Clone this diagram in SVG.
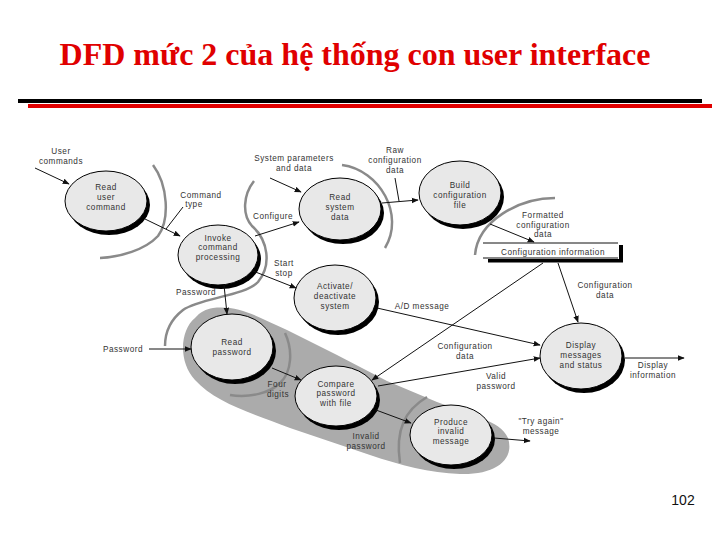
<svg xmlns="http://www.w3.org/2000/svg" width="720" height="540" viewBox="0 0 720 540">
<defs>
<style>
.t{font-family:"Liberation Sans",Arial,sans-serif;font-size:8.2px;fill:#333;text-anchor:middle;letter-spacing:0.5px}
.title{font-family:"Liberation Serif","Times New Roman",serif;font-size:32px;font-weight:bold;fill:#e00000;text-anchor:middle}
.sh{fill:#000}
.bub{fill:#e8e8e8;stroke:#000;stroke-width:1}
.arc{fill:none;stroke:#8a8a8a;stroke-width:2.5}
.f{fill:none;stroke:#111;stroke-width:1;marker-end:url(#ah)}
.ld{fill:none;stroke:#111;stroke-width:1}
</style>
<marker id="ah" viewBox="0 0 10 10" refX="9" refY="5" markerWidth="7" markerHeight="7" markerUnits="userSpaceOnUse" orient="auto">
<path d="M0,1 L10,5 L0,9 Z" fill="#111"/>
</marker>
</defs>
<rect width="720" height="540" fill="#fff"/>
<text class="title" x="355" y="65">DFD mức 2 của hệ thống con user interface</text>
<rect x="18" y="99" width="684" height="4" fill="#000"/>
<rect x="28" y="104" width="684" height="4" fill="#e00000"/>

<g id="blob">
<path d="M213,308 C240,305 260,318 287,330 L337,355 L387,381 L437,402 C470,415 500,420 508,438 C515,460 495,475 460,474 C430,473 400,465 370,455 L290,428 C250,413 215,402 195,380 C178,362 180,330 195,318 C200,312 206,309 213,308 Z" fill="#ababab"/>
</g>

<g id="arcs">
<path class="arc" d="M153,165 C168,185 170,220 158,236 C145,250 120,257 100,258"/>
<path class="arc" d="M254,181 C243,195 242,215 252,226 C268,240 272,265 258,282 C245,296 200,298 183,310 C170,320 165,332 165,346"/>
<path class="arc" d="M342,165 C380,170 405,215 385,248"/>
<path class="arc" d="M555,198 C520,198 478,220 475,255"/>
<path class="arc" d="M285,333 C293,350 292,372 280,383 C270,393 250,398 230,395" stroke="#7a7a7a"/>
<path class="arc" d="M427,397 C405,410 395,430 400,463" stroke="#7a7a7a"/>
</g>

<g id="n-read-user-command">
<ellipse class="sh" cx="109" cy="205" rx="41" ry="30"/>
<ellipse class="bub" cx="106" cy="201" rx="41" ry="30"/>
<text class="t" x="106" y="190">Read</text>
<text class="t" x="106" y="200">user</text>
<text class="t" x="106" y="210">command</text>
</g>

<g id="n-invoke">
<ellipse class="sh" cx="221" cy="259" rx="40" ry="30"/>
<ellipse class="bub" cx="218" cy="255" rx="40" ry="30"/>
<text class="t" x="218" y="241">Invoke</text>
<text class="t" x="218" y="250">command</text>
<text class="t" x="218" y="260">processing</text>
</g>

<g id="n-read-system-data">
<ellipse class="sh" cx="343" cy="213" rx="41" ry="31"/>
<ellipse class="bub" cx="340" cy="209" rx="41" ry="31"/>
<text class="t" x="340" y="200">Read</text>
<text class="t" x="340" y="210">system</text>
<text class="t" x="340" y="220">data</text>
</g>

<g id="n-build-config">
<ellipse class="sh" cx="463" cy="197" rx="41" ry="32"/>
<ellipse class="bub" cx="460" cy="193" rx="41" ry="32"/>
<text class="t" x="460" y="188">Build</text>
<text class="t" x="460" y="198">configuration</text>
<text class="t" x="460" y="208">file</text>
</g>

<g id="store-config-info">
<line x1="483" y1="243" x2="618" y2="243" stroke="#111" stroke-width="1"/>
<line x1="483" y1="258" x2="618" y2="258" stroke="#111" stroke-width="1"/>
<rect x="488" y="259" width="135" height="3.5" fill="#000"/>
<rect x="619" y="245" width="4" height="17" fill="#000"/>
<text class="t" x="553" y="255">Configuration information</text>
</g>

<g id="n-activate">
<ellipse class="sh" cx="338" cy="302" rx="41" ry="33"/>
<ellipse class="bub" cx="335" cy="298" rx="41" ry="33"/>
<text class="t" x="335" y="289">Activate/</text>
<text class="t" x="335" y="299">deactivate</text>
<text class="t" x="335" y="309">system</text>
</g>

<g id="n-display">
<ellipse class="sh" cx="584" cy="360" rx="41" ry="33"/>
<ellipse class="bub" cx="581" cy="356" rx="41" ry="33"/>
<text class="t" x="581" y="348">Display</text>
<text class="t" x="581" y="358">messages</text>
<text class="t" x="581" y="368">and status</text>
</g>

<g id="n-read-password">
<ellipse class="sh" cx="235" cy="351" rx="41" ry="33"/>
<ellipse class="bub" cx="232" cy="347" rx="41" ry="33"/>
<text class="t" x="232" y="345">Read</text>
<text class="t" x="232" y="355">password</text>
</g>

<g id="n-compare">
<ellipse class="sh" cx="339" cy="400" rx="41" ry="30"/>
<ellipse class="bub" cx="336" cy="396" rx="41" ry="30"/>
<text class="t" x="336" y="387">Compare</text>
<text class="t" x="336" y="396">password</text>
<text class="t" x="336" y="406">with file</text>
</g>

<g id="n-produce">
<ellipse class="sh" cx="454" cy="439" rx="41" ry="30"/>
<ellipse class="bub" cx="451" cy="435" rx="41" ry="30"/>
<text class="t" x="451" y="425">Produce</text>
<text class="t" x="451" y="434">invalid</text>
<text class="t" x="451" y="444">message</text>
</g>

<g id="connectors">
<path class="f" d="M35,168 L69,184"/>
<path class="f" d="M145,219 L180,236"/>
<path class="ld" d="M183,207 L166,229"/>
<path class="f" d="M255,236 L299,222"/>
<path class="f" d="M270,178 L301,192"/>
<path class="f" d="M382,203 L418,200"/>
<path class="ld" d="M395,178 L399,201"/>
<path class="f" d="M490,224 L534,242"/>
<path class="f" d="M558,263 L578,322"/>
<path class="f" d="M543,263 L372,380"/>
<path class="f" d="M377,308 L540,345"/>
<path class="f" d="M378,386 L540,358"/>
<path class="f" d="M625,358 L684,358"/>
<path class="f" d="M253,271 L296,288"/>
<path class="f" d="M224,285 L227,314"/>
<path class="f" d="M149,349 L191,349"/>
<path class="f" d="M272,368 L301,380"/>
<path class="f" d="M376,410 L411,423"/>
<path class="f" d="M494,438 L530,441"/>
</g>

<g id="labels">
<text class="t" x="61" y="154">User</text>
<text class="t" x="61" y="164">commands</text>
<text class="t" x="201" y="198">Command</text>
<text class="t" x="194" y="207">type</text>
<text class="t" x="273" y="219">Configure</text>
<text class="t" x="294" y="161">System parameters</text>
<text class="t" x="294" y="171">and data</text>
<text class="t" x="395" y="153">Raw</text>
<text class="t" x="395" y="163">configuration</text>
<text class="t" x="395" y="173">data</text>
<text class="t" x="543" y="218">Formatted</text>
<text class="t" x="543" y="228">configuration</text>
<text class="t" x="543" y="237">data</text>
<text class="t" x="605" y="288">Configuration</text>
<text class="t" x="605" y="298">data</text>
<text class="t" x="465" y="349">Configuration</text>
<text class="t" x="465" y="359">data</text>
<text class="t" x="422" y="309">A/D message</text>
<text class="t" x="496" y="379">Valid</text>
<text class="t" x="496" y="389">password</text>
<text class="t" x="653" y="368">Display</text>
<text class="t" x="653" y="378">information</text>
<text class="t" x="284" y="266">Start</text>
<text class="t" x="284" y="276">stop</text>
<text class="t" x="196" y="295">Password</text>
<text class="t" x="123" y="352">Password</text>
<text class="t" x="277" y="387">Four</text>
<text class="t" x="278" y="397">digits</text>
<text class="t" x="366" y="439">Invalid</text>
<text class="t" x="366" y="449">password</text>
<text class="t" x="541" y="424">"Try again"</text>
<text class="t" x="541" y="434">message</text>
</g>

<text x="683" y="505" font-family="'Liberation Sans',Arial,sans-serif" font-size="14" fill="#111" text-anchor="middle">102</text>
</svg>
